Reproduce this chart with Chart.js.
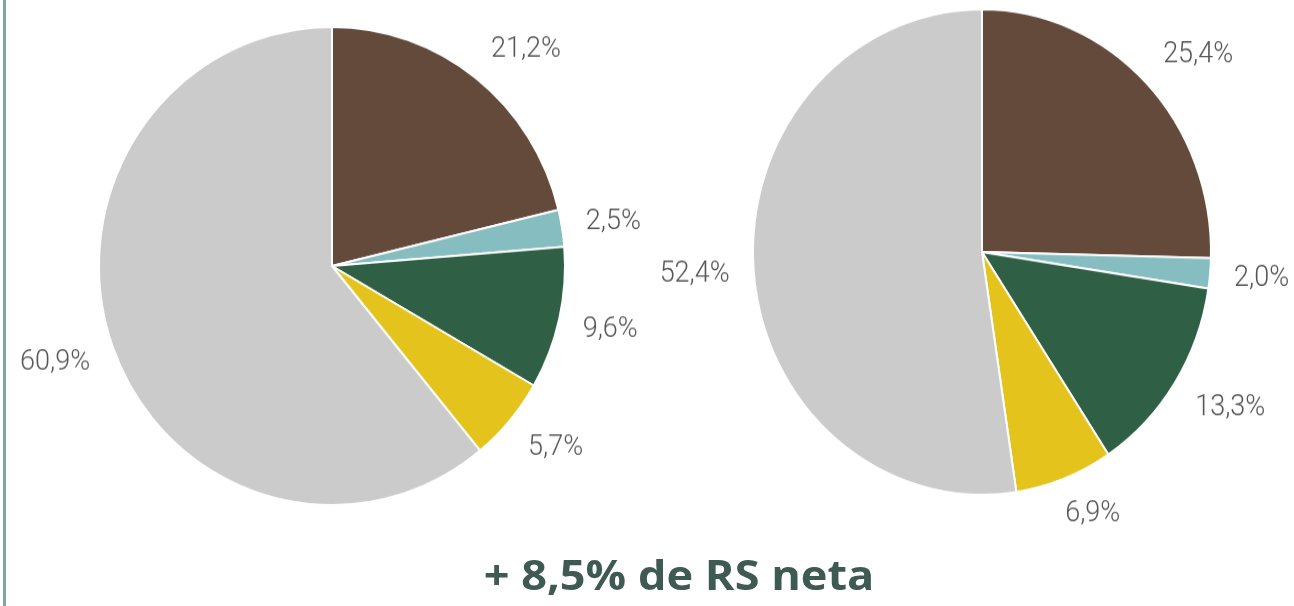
<!DOCTYPE html>
<html>
<head>
<meta charset="utf-8">
<script src="https://cdn.jsdelivr.net/npm/chart.js@4.4.1/dist/chart.umd.min.js"></script>
<style>
  html, body { margin: 0; padding: 0; background: #fff; }
  body { width: 1294px; height: 606px; position: relative; overflow: hidden; }
  .rule { position: absolute; left: 3px; top: 0; width: 3px; height: 606px; background: #82a892; }
  .wrap { position: absolute; }
  #title {
    position: absolute; left: 0; width: 1358px; top: 549px; text-align: center;
    font-family: "Open Sans", sans-serif; font-weight: 700; font-size: 41px;
    color: #3e5a52; line-height: 50px; white-space: nowrap;
    transform: scaleX(1.1); transform-origin: 679px 25px;
  }
</style>
</head>
<body>
<div class="rule"></div>
<div class="wrap" style="left:0;top:0;width:680px;height:540px;transform:scaleY(1.026);transform-origin:332px 266px"><canvas id="pieLeft"></canvas></div>
<div class="wrap" style="left:660px;top:0;width:634px;height:540px;transform:scaleY(1.06);transform-origin:322px 252px"><canvas id="pieRight"></canvas></div>
<div id="title">+ 8,5% de RS neta</div>
<script>
const segments = ['Marrón', 'Azul', 'Verde', 'Amarillo', 'Gris'];
const segmentColors = ['#634a3b', '#86bdc0', '#2f6045', '#e4c41c', '#cbcbcb'];
const leftValues = [21.2, 2.5, 9.6, 5.7, 60.9];
const rightValues = [25.4, 2.0, 13.3, 6.9, 52.4];

function fmt(v) {
    return v.toFixed(1).replace('.', ',') + '%';
}

function clamp(v) {
    return Math.max(-1, Math.min(1, v));
}

// outside-end labels, box pushed away from the pie like office charts do
const outsideLabels = {
    id: 'outsideLabels',
    afterDatasetsDraw(chart) {
        const ctx = chart.ctx;
        const meta = chart.getDatasetMeta(0);
        const vals = chart.data.datasets[0].data;
        ctx.save();
        ctx.font = '300 27px Roboto, sans-serif';
        ctx.fillStyle = '#545454';
        ctx.textAlign = 'center';
        ctx.textBaseline = 'middle';
        meta.data.forEach((arc, i) => {
            const p = arc.getProps(['x', 'y', 'startAngle', 'endAngle', 'outerRadius'], true);
            const mid = (p.startAngle + p.endAngle) / 2;
            const ux = Math.cos(mid), uy = Math.sin(mid);
            const r = p.outerRadius + 24;
            const txt = fmt(vals[i]);
            const w = ctx.measureText(txt).width;
            const h = 20;
            const cx = p.x + ux * r + clamp(ux * 2) * w / 2;
            const cy = p.y + uy * r + clamp(uy * 2) * h / 2;
            ctx.fillText(txt, cx, cy + 1);
        });
        ctx.restore();
    }
};

function makePie(id, values, pad) {
    const ctx = document.getElementById(id).getContext('2d');
    return new Chart(ctx, {
        type: 'pie',
        data: {
            labels: segments,
            datasets: [{
                data: values,
                backgroundColor: segmentColors,
                borderColor: '#ffffff',
                borderWidth: 2,
                hoverOffset: 0
            }]
        },
        options: {
            responsive: true,
            maintainAspectRatio: false,
            animation: false,
            layout: { padding: pad },
            plugins: {
                legend: { display: false },
                tooltip: { enabled: false }
            }
        },
        plugins: [outsideLabels]
    });
}

makePie('pieLeft', leftValues, { left: 98, top: 32, right: 114, bottom: 40 });
makePie('pieRight', rightValues, { left: 92, top: 22, right: 82, bottom: 58 });
</script>
</body>
</html>
